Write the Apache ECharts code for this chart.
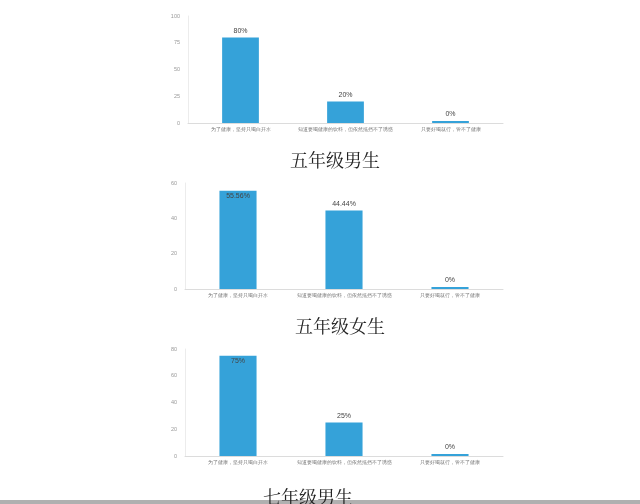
<!DOCTYPE html>
<html><head><meta charset="utf-8">
<script src="https://cdn.jsdelivr.net/npm/echarts@6/dist/echarts.min.js"></script>
<style>html,body{margin:0;padding:0;background:#fff;}#c{width:640px;height:504px;}</style>
</head><body><div id="c"></div>
<script>
var categories = ['为了健康，坚持只喝白开水', '知道要喝健康的饮料，但依然抵挡不了诱惑', '只要好喝就行，管不了健康'];
var grade5Boys = [80, 20, 0];
var grade5Girls = [55.56, 44.44, 0];
var grade7Boys = [75, 25, 0];
var titles = ['五年级男生', '五年级女生', '七年级男生'];
var yMax = [100, 60, 80];
var yInterval = [25, 20, 20];

var series = [grade5Boys, grade5Girls, grade7Boys];
var grids = [
  {left: 188, width: 315, top: 16, height: 107},
  {left: 185, width: 318, top: 183, height: 106},
  {left: 185, width: 318, top: 349, height: 107}
];
var titlePos = [{left: 290, top: 151}, {left: 295, top: 317}, {left: 263, top: 488}];

var option = {
  backgroundColor: '#fff',
  animation: false,
  title: titles.map(function (t, i) {
    return {text: t, left: titlePos[i].left, top: titlePos[i].top, padding: 0,
      textStyle: {fontFamily: '"Noto Serif CJK SC", serif', fontWeight: 'normal', fontSize: 18, color: '#222'}};
  }),
  grid: grids,
  xAxis: series.map(function (s, i) {
    return {type: 'category', gridIndex: i, data: categories,
      axisLine: {lineStyle: {color: '#dcdcdc'}}, axisTick: {show: false},
      axisLabel: {fontSize: 5, color: '#777', margin: 4, interval: 0}};
  }),
  yAxis: series.map(function (s, i) {
    return {type: 'value', gridIndex: i, min: 0, max: yMax[i], interval: yInterval[i],
      axisLine: {show: true, lineStyle: {color: '#ececec'}}, axisTick: {show: false},
      splitLine: {show: false},
      axisLabel: {fontSize: 5.5, color: '#999', margin: 8}};
  }),
  series: series.map(function (vals, i) {
    return {type: 'bar', xAxisIndex: i, yAxisIndex: i, barWidth: '35%', barMinHeight: 2,
      itemStyle: {color: '#35a2d9'},
      label: {show: true, position: 'top', formatter: '{c}%', fontSize: 7, color: '#444', distance: 3},
      data: vals.map(function (v, j) {
        return (i > 0 && j === 0) ? {value: v, label: {position: 'insideTop', distance: 2}} : v;
      })};
  }),
  graphic: [{type: 'rect', shape: {x: 0, y: 500, width: 640, height: 4}, style: {fill: '#b0b0b0'}}]
};
echarts.init(document.getElementById('c')).setOption(option);
</script>
</body></html>
